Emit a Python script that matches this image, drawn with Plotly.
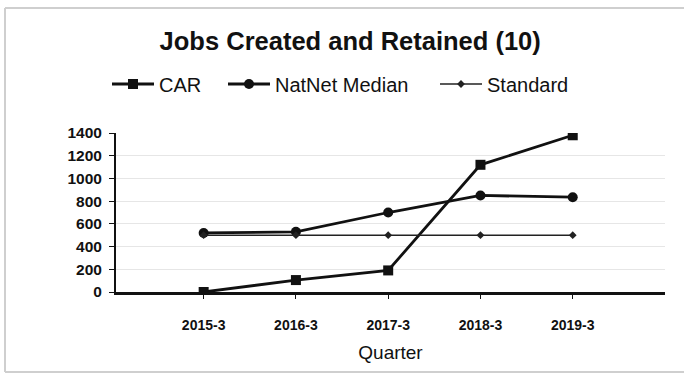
import plotly.graph_objects as go

quarters = ["2015-3", "2016-3", "2017-3", "2018-3", "2019-3"]
car = [0, 105, 190, 1120, 1380]
natnet_median = [520, 530, 700, 850, 835]
standard = [500, 500, 500, 500, 500]

W, H = 684, 375
L, R, T, B = 116, 19, 133, 83
pw, ph = W - L - R, H - T - B

def px_x(x):
    return (x - L) / pw

def px_y(y):
    return (H - B - y) / ph

FONT = "Liberation Sans, Arial, sans-serif"

fig = go.Figure()
fig.add_trace(go.Scatter(
    x=quarters, y=car, name="CAR", mode="lines+markers", legend="legend",
    line=dict(color="#111111", width=2.8),
    marker=dict(symbol="square", size=10, color="#111111"),
))
fig.add_trace(go.Scatter(
    x=quarters, y=natnet_median, name="NatNet Median", mode="lines+markers",
    legend="legend2",
    line=dict(color="#111111", width=2.8),
    marker=dict(symbol="circle", size=10, color="#111111"),
))
fig.add_trace(go.Scatter(
    x=quarters, y=standard, name="Standard", mode="lines+markers",
    legend="legend3",
    line=dict(color="#222222", width=1.5),
    marker=dict(symbol="diamond", size=6, color="#222222"),
))

def legend_at(x_px):
    return dict(
        orientation="h", x=px_x(x_px), xanchor="left",
        y=px_y(84), yref="paper", yanchor="middle",
        font=dict(size=20, family=FONT),
        bgcolor="rgba(0,0,0,0)", itemwidth=42,
    )

fig.update_layout(
    width=W, height=H,
    margin=dict(l=L, r=R, t=T, b=B, autoexpand=False),
    paper_bgcolor="white", plot_bgcolor="white",
    font=dict(family=FONT, color="#111111"),
    title=dict(
        text="<b>Jobs Created and Retained (10)</b>",
        x=0.512, xanchor="center", y=1 - 41 / H, yanchor="middle",
        font=dict(size=25.5, family=FONT, color="#111111"),
    ),
    legend=legend_at(107),
    legend2=legend_at(223),
    legend3=legend_at(435),
    showlegend=True,
    xaxis=dict(
        type="category", range=[-0.95, 5.0],
        showline=True, linecolor="#111111", linewidth=3,
        ticks="outside", ticklen=4, tickcolor="#111111",
        ticklabelstandoff=14,
        showgrid=False, zeroline=False,
        tickfont=dict(size=14, family=FONT, color="#111111"),
        tickprefix="<b>", ticksuffix="</b>",
        title=dict(text="Quarter", font=dict(size=19, family=FONT), standoff=14),
    ),
    yaxis=dict(
        range=[0, 1400], dtick=200,
        showline=True, linecolor="#111111", linewidth=2,
        ticks="outside", ticklen=5, tickcolor="#111111",
        ticklabelstandoff=4,
        showgrid=True, gridcolor="#e6e6e6", gridwidth=1,
        zeroline=False,
        tickfont=dict(size=15.5, family=FONT, color="#111111"),
        tickprefix="<b>", ticksuffix="</b>",
    ),
)

# light outer frame around the chart
frame = dict(type="line", xref="paper", yref="paper",
             line=dict(color="#cfcfcf", width=2), layer="below")
fig.add_shape(**frame, x0=px_x(5), x1=px_x(700), y0=px_y(8), y1=px_y(8))
fig.add_shape(**frame, x0=px_x(5), x1=px_x(5), y0=px_y(8), y1=px_y(372))
fig.add_shape(**frame, x0=px_x(5), x1=px_x(700), y0=px_y(372), y1=px_y(372))

fig.write_html("out.html")
